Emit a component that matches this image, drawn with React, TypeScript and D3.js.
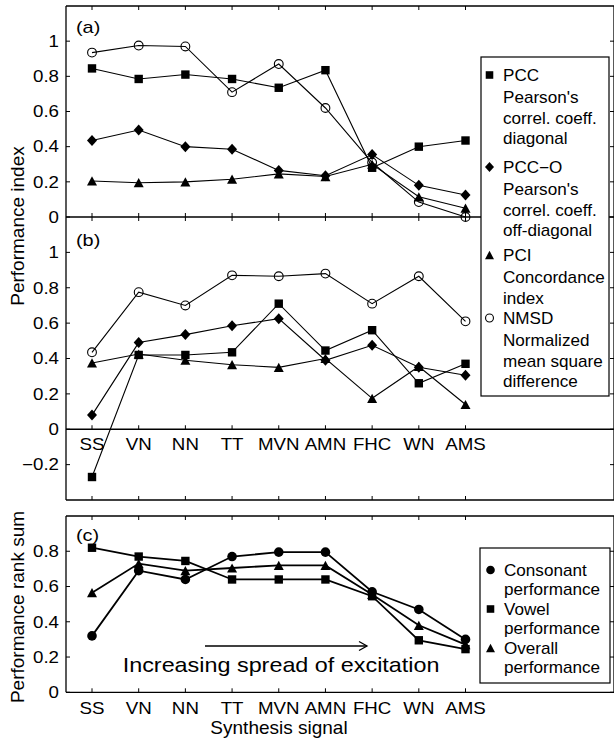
import React from 'react';
import * as d3 from 'd3';

const categories = ['SS', 'VN', 'NN', 'TT', 'MVN', 'AMN', 'FHC', 'WN', 'AMS'];

// Panel (a)
const pccA = [0.845, 0.785, 0.81, 0.785, 0.735, 0.835, 0.28, 0.4, 0.435];
const pccoA = [0.435, 0.495, 0.4, 0.385, 0.265, 0.235, 0.355, 0.18, 0.125];
const pciA = [0.205, 0.195, 0.2, 0.215, 0.245, 0.23, 0.3, 0.115, 0.05];
const nmsdA = [0.935, 0.975, 0.97, 0.71, 0.87, 0.62, 0.31, 0.085, 0.0];

// Panel (b)
const pccB = [-0.27, 0.42, 0.42, 0.435, 0.71, 0.445, 0.56, 0.26, 0.37];
const pccoB = [0.08, 0.49, 0.535, 0.585, 0.625, 0.39, 0.475, 0.35, 0.305];
const pciB = [0.375, 0.425, 0.39, 0.365, 0.35, 0.4, 0.175, 0.355, 0.14];
const nmsdB = [0.435, 0.775, 0.7, 0.87, 0.865, 0.88, 0.71, 0.865, 0.61];

// Panel (c)
const consonantC = [0.32, 0.69, 0.64, 0.77, 0.795, 0.795, 0.57, 0.47, 0.3];
const vowelC = [0.82, 0.77, 0.745, 0.64, 0.64, 0.64, 0.545, 0.295, 0.245];
const overallC = [0.565, 0.73, 0.69, 0.705, 0.72, 0.72, 0.555, 0.38, 0.27];

const ticksA = [0, 0.2, 0.4, 0.6, 0.8, 1];
const ticksB = [-0.2, 0, 0.2, 0.4, 0.6, 0.8, 1];
const ticksC = [0, 0.2, 0.4, 0.6, 0.8];

const legendAB = [
  { sym: 'square', title: 'PCC', desc: ["Pearson's", 'correl. coeff.', 'diagonal'] },
  { sym: 'diamond', title: 'PCC\u2212O', desc: ["Pearson's", 'correl. coeff.', 'off-diagonal'] },
  { sym: 'triangle', title: 'PCI', desc: ['Concordance', 'index'] },
  { sym: 'circle', title: 'NMSD', desc: ['Normalized', 'mean square', 'difference'] },
];
const legendC = [
  { sym: 'circle', title: 'Consonant', desc: ['performance'] },
  { sym: 'square', title: 'Vowel', desc: ['performance'] },
  { sym: 'triangle', title: 'Overall', desc: ['performance'] },
];

const FONT = 'Liberation Sans, Arial, Helvetica, sans-serif';
const W = 614;
const H = 739;
const L = 66;
const R = 614;
const SX = 1.17; // horizontal stretch of the reference text
const SXL = 1.07;

const x = d3.scaleLinear().domain([0, 8]).range([92, 465.5]);
const yA = d3.scaleLinear().domain([0, 1.2]).range([217, 6]);
const yB = d3.scaleLinear().domain([-0.4, 1.2]).range([500, 217]);
const yC = d3.scaleLinear().domain([0, 1]).range([692.3, 516]);
const fmt = d3.format('');

function T({ x, y, size = 16, anchor = 'start', sx = SX, children, rotate = 0 }: any) {
  const tr = rotate
    ? `translate(${x},${y}) rotate(${rotate})`
    : `translate(${x},${y}) scale(${sx},1)`;
  return (
    <text transform={tr} fontSize={size} textAnchor={anchor} fontFamily={FONT} fill="#000">
      {children}
    </text>
  );
}

function Marker({ type, cx, cy, s = 1, filledCircle = false }: any) {
  if (type === 'square') {
    const h = 4.2 * s;
    return <rect x={cx - h} y={cy - h} width={2 * h} height={2 * h} fill="#000" />;
  }
  if (type === 'diamond') {
    const w = 5 * s, hh = 5.5 * s;
    return <path d={`M${cx},${cy - hh}L${cx + w},${cy}L${cx},${cy + hh}L${cx - w},${cy}Z`} fill="#000" />;
  }
  if (type === 'triangle') {
    const w = 5 * s, hh = 4.6 * s;
    return <path d={`M${cx},${cy - hh}L${cx + w},${cy + hh}L${cx - w},${cy + hh}Z`} fill="#000" />;
  }
  if (filledCircle) return <circle cx={cx} cy={cy} r={4.8 * s} fill="#000" />;
  return <circle cx={cx} cy={cy} r={4.4 * s} fill="none" stroke="#000" strokeWidth={1.1} />;
}

function Series({ values, y, type, lw, filledCircle, s }: any) {
  const line = d3.line<number>().x((_, i) => x(i)).y((d) => y(d));
  return (
    <g>
      <path d={line(values) || ''} fill="none" stroke="#000" strokeWidth={lw} />
      {values.map((v: number, i: number) => (
        <Marker key={i} type={type} cx={x(i)} cy={y(v)} s={s} filledCircle={filledCircle} />
      ))}
    </g>
  );
}

function YTicks({ y, ticks }: any) {
  return (
    <g>
      {ticks.map((t: number) => (
        <g key={t}>
          <line x1={L} x2={L + 4} y1={y(t)} y2={y(t)} stroke="#000" strokeWidth={1} />
          <line x1={R - 4} x2={R} y1={y(t)} y2={y(t)} stroke="#000" strokeWidth={1} />
          <T x={59} y={y(t) + 5.8} anchor="end">{fmt(t)}</T>
        </g>
      ))}
    </g>
  );
}

function XTicks({ yy, dir }: any) {
  return (
    <g>
      {categories.map((c, i) => (
        <line key={c} x1={x(i)} x2={x(i)} y1={yy} y2={yy + dir * 4} stroke="#000" strokeWidth={1} />
      ))}
    </g>
  );
}

function XLabels({ yy }: any) {
  return (
    <g>
      {categories.map((c, i) => (
        <T key={c} x={x(i)} y={yy} anchor="middle">{c}</T>
      ))}
    </g>
  );
}

function Legend({ items, x0, y0, x1, y1, tx, mx, centers, step, descOffset, filledCircle }: any) {
  return (
    <g>
      <rect x={x0} y={y0} width={x1 - x0} height={y1 - y0} fill="#fff" stroke="#000" strokeWidth={1.2} />
      {items.map((it: any, k: number) => {
        const cy = centers[k];
        return (
          <g key={it.title}>
            <Marker type={it.sym} cx={mx} cy={cy} s={0.9} filledCircle={filledCircle} />
            <T x={tx} y={cy + 5.7} sx={SXL}>{it.title}</T>
            {it.desc.map((d: string, j: number) => (
              <T key={j} x={tx} y={cy + descOffset + j * step + 5.7} sx={SXL}>{d}</T>
            ))}
          </g>
        );
      })}
    </g>
  );
}

export default function App() {
  const lwAB = 1.1;
  const lwC = 1.8;
  return (
    <svg width={W} height={H} style={{ position: 'absolute', left: 0, top: 0, background: '#fff' }}>
      <rect x={0} y={0} width={W} height={H} fill="#fff" />
      {/* Panel (a)+(b) frame */}
      <line x1={L} x2={R} y1={6} y2={6} stroke="#000" strokeWidth={1.3} />
      <line x1={L} x2={R} y1={217} y2={217} stroke="#000" strokeWidth={1.3} />
      <line x1={L} x2={R} y1={yB(0)} y2={yB(0)} stroke="#000" strokeWidth={1.3} />
      <line x1={L} x2={R} y1={500} y2={500} stroke="#000" strokeWidth={1.3} />
      <line x1={L} x2={L} y1={6} y2={500} stroke="#000" strokeWidth={1.3} />
      <line x1={R} x2={R} y1={6} y2={500} stroke="#000" strokeWidth={1.3} />
      <XTicks yy={6} dir={1} />
      <XTicks yy={217} dir={-1} />
      <XTicks yy={217} dir={1} />
      <XTicks yy={yB(0)} dir={-1} />
      <XTicks yy={500} dir={-1} />
      <YTicks y={yA} ticks={ticksA} />
      <YTicks y={yB} ticks={ticksB} />
      <XLabels yy={450} />

      {/* Panel (c) frame */}
      <line x1={L} x2={R} y1={516} y2={516} stroke="#000" strokeWidth={1.3} />
      <line x1={L} x2={R} y1={692.3} y2={692.3} stroke="#000" strokeWidth={1.3} />
      <line x1={L} x2={L} y1={516} y2={692.3} stroke="#000" strokeWidth={1.3} />
      <line x1={R} x2={R} y1={516} y2={692.3} stroke="#000" strokeWidth={1.3} />
      <XTicks yy={516} dir={1} />
      <XTicks yy={692.3} dir={-1} />
      <YTicks y={yC} ticks={ticksC} />
      <XLabels yy={714} />

      {/* Series (a) */}
      <Series values={nmsdA} y={yA} type="circle" lw={lwAB} s={1} />
      <Series values={pccA} y={yA} type="square" lw={lwAB} s={1} />
      <Series values={pccoA} y={yA} type="diamond" lw={lwAB} s={1} />
      <Series values={pciA} y={yA} type="triangle" lw={lwAB} s={1} />

      {/* Series (b) */}
      <Series values={nmsdB} y={yB} type="circle" lw={lwAB} s={1} />
      <Series values={pccB} y={yB} type="square" lw={lwAB} s={1} />
      <Series values={pccoB} y={yB} type="diamond" lw={lwAB} s={1} />
      <Series values={pciB} y={yB} type="triangle" lw={lwAB} s={1} />

      {/* Series (c) */}
      <Series values={consonantC} y={yC} type="circle" lw={lwC} s={1} filledCircle />
      <Series values={vowelC} y={yC} type="square" lw={lwC} s={1} />
      <Series values={overallC} y={yC} type="triangle" lw={lwC} s={1} />

      {/* Panel labels */}
      <T x={76} y={33} size={17}>(a)</T>
      <T x={76} y={246} size={17}>(b)</T>
      <T x={76} y={541} size={17}>(c)</T>

      {/* Axis titles */}
      <T x={24} y={226} size={19} anchor="middle" rotate={-90}>Performance index</T>
      <T x={24} y={607} size={19} anchor="middle" rotate={-90}>Performance rank sum</T>
      <T x={279} y={734} size={19} sx={1} anchor="middle">Synthesis signal</T>

      {/* Annotation */}
      <line x1={205} x2={367} y1={646} y2={646} stroke="#000" strokeWidth={1.3} />
      <path d="M359,641.5L367,646L359,650.5" fill="none" stroke="#000" strokeWidth={1.3} />
      <T x={122.7} y={672} size={20.5} sx={1.14}>Increasing spread of excitation</T>

      {/* Legends */}
      <Legend
        items={legendAB}
        x0={481} y0={57} x1={609} y1={396}
        tx={503} mx={489.5}
        centers={[75, 167, 255, 318]}
        step={20.5} descOffset={22.5}
      />
      <Legend
        items={legendC}
        x0={480} y0={548} x1={610} y1={683}
        tx={504} mx={490.5}
        centers={[570, 609, 648]}
        step={19.5} descOffset={19.5}
        filledCircle
      />
    </svg>
  );
}
